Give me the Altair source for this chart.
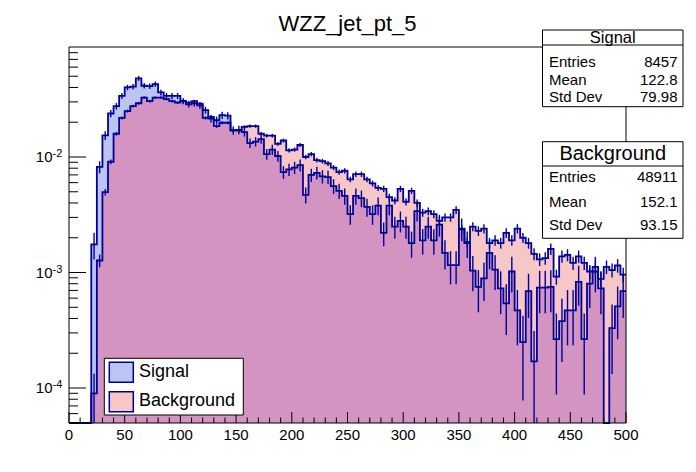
import altair as alt
import pandas as pd

# ---------------- data ----------------
bin_lo = list(range(0, 500, 5))          # 100 bins of width 5, 0..500

signal = [0, 0, 0, 0,
          0.00175, 0.0082, 0.0154, 0.0238, 0.0276, 0.0338, 0.040, 0.0406, 0.048, 0.0414,
          0.041, 0.0428, 0.0362, 0.0338, 0.0338, 0.0338, 0.0305, 0.0286, 0.0292, 0.0280,
          0.0255, 0.0215, 0.0208, 0.023, 0.0228, 0.017, 0.0172, 0.0164, 0.0132, 0.0136,
          0.0143, 0.0106, 0.0116, 0.0102, 0.0074, 0.0078, 0.0081, 0.0085, 0.0047, 0.0070,
          0.0073, 0.0068, 0.0067, 0.0056, 0.0051, 0.0046, 0.0032, 0.0046, 0.0044, 0.0037,
          0.0032, 0.0038, 0.0022, 0.0038, 0.0025, 0.0028, 0.0025, 0.0018, 0.0034, 0.0019,
          0.0025, 0.0019, 0.0026, 0.00148, 0.00116, 0.00116, 0.0024, 0.0018, 0.00104, 0.00075,
          0.00089, 0.00148, 0.00106, 0.00073, 0.00054, 0.00102, 0.00047, 0.00025, 0.00069, 0.00017,
          0.00074, 0.00074, 0.00075, 0.000265, 0.00038, 0.00047, 0.00047, 0.00083, 0.000265, 0.0008,
          0.00102, 0.00073, 0, 0.00033, 0.00051, 0.00069]

background = [0, 0, 0, 0,
              9e-5, 0.00127, 0.00497, 0.0091, 0.0159, 0.0218, 0.0250, 0.0276, 0.0292, 0.0327,
              0.0305, 0.0327, 0.0327, 0.0317, 0.0305, 0.0296, 0.0305, 0.0296, 0.0305, 0.0290,
              0.0218, 0.0222, 0.0185, 0.0198, 0.0198, 0.017, 0.017, 0.0182, 0.0185, 0.0185,
              0.0159, 0.0153, 0.0153, 0.013, 0.0139, 0.0114, 0.0116, 0.0127, 0.0100, 0.0106,
              0.0094, 0.0092, 0.0088, 0.0081, 0.0074, 0.0076, 0.0064, 0.0071, 0.0071, 0.0064,
              0.0059, 0.0054, 0.0053, 0.0045, 0.0042, 0.0053, 0.0041, 0.0051, 0.0040, 0.0033,
              0.0034, 0.0032, 0.0028, 0.0030, 0.0030, 0.00348, 0.00237, 0.00184, 0.0025, 0.00229,
              0.0024, 0.0018, 0.0019, 0.0018, 0.0022, 0.0019, 0.0024, 0.0020, 0.0018, 0.00145,
              0.0013, 0.00133, 0.0016, 0.00092, 0.00138, 0.00142, 0.00121, 0.00138, 0.00121, 0.00102,
              0.00112, 0.00088, 0.00112, 0.00105, 0.00115, 0.00096]

sig_entries = 8457
bg_entries = 48911
sig_stats = ["8457", "122.8", "79.98"]
bg_stats = ["48911", "152.1", "93.15"]
stat_names = ["Entries", "Mean", "Std Dev"]

x_major = list(range(0, 501, 50))
x_minor = [v for v in range(0, 501, 10) if v % 50]
y_major = [1e-2, 1e-3, 1e-4]
y_major_exp = ["-2", "-3", "-4"]
y_minor = ([k * 1e-5 for k in range(5, 10)] + [k * 1e-4 for k in range(2, 10)]
           + [k * 1e-3 for k in range(2, 10)] + [k * 1e-2 for k in range(2, 9)])

title_text = "WZZ_jet_pt_5"

# ---------------- styling ----------------
PLOT_W, PLOT_H = 557, 376
Y_MIN, Y_MAX = 4.98e-5, 0.0896
FLOOR = 1e-7
NAVY = "#000099"
SIG_FILL = "#bcc4f2"
BG_FILL = "#f7c6c6"
OVERLAP_FILL = "#d394c2"
FONT = "Liberation Sans"

x_scale = alt.Scale(domain=[0, 500], nice=False, zero=False)
y_scale = alt.Scale(type="log", domain=[Y_MIN, Y_MAX], clamp=True, nice=False)

# ---------------- tables built from the arrays ----------------
xs = bin_lo + [500]
sig_s = [v if v > 0 else FLOOR for v in signal]
bg_s = [v if v > 0 else FLOOR for v in background]
sig_s = sig_s + [sig_s[-1]]
bg_s = bg_s + [bg_s[-1]]
hist = pd.DataFrame({"x": xs, "sig": sig_s, "bg": bg_s,
                     "ov": [min(a, b) for a, b in zip(sig_s, bg_s)]})

def err_table(vals, n):
    rows = []
    for lo, v in zip(bin_lo, vals):
        if v > 0:
            e = (v / n) ** 0.5
            rows.append({"c": lo + 2.5, "lo": max(v - e, FLOOR), "hi": v + e})
    return pd.DataFrame(rows)

sig_err = err_table(signal, sig_entries)
bg_err = err_table(background, bg_entries)

one = pd.DataFrame({"d": [0]})

X = lambda f: alt.X(f, scale=x_scale, axis=None)
Y = lambda f: alt.Y(f, scale=y_scale, axis=None, stack=None)

def area(field, color):
    return alt.Chart(hist).mark_area(interpolate="step-after", color=color).encode(
        x=X("x:Q"), y=Y(field + ":Q"), y2=alt.value(PLOT_H))

def outline(field):
    return alt.Chart(hist).mark_line(interpolate="step-after", color=NAVY, strokeWidth=1.8).encode(
        x=X("x:Q"), y=Y(field + ":Q"))

def errbars(df):
    return alt.Chart(df).mark_rule(color=NAVY, strokeWidth=1.4).encode(
        x=X("c:Q"), y=Y("lo:Q"), y2=alt.Y2("hi:Q"))

def box(x1, x2, y1, y2, fill="white", stroke="black", sw=1.0):
    return alt.Chart(one).mark_rect(fill=fill, stroke=stroke, strokeWidth=sw).encode(
        x=alt.value(x1), x2=alt.value(x2), y=alt.value(y1), y2=alt.value(y2))

def hline(x1, x2, y):
    return alt.Chart(one).mark_rule(color="black", strokeWidth=1).encode(
        x=alt.value(x1), x2=alt.value(x2), y=alt.value(y))

def label(txt, x, y, size, align="left"):
    return alt.Chart(one).mark_text(text=txt, font=FONT, fontSize=size, align=align,
                                    baseline="middle", color="black").encode(
        x=alt.value(x), y=alt.value(y))

layers = [
    area("bg", BG_FILL),
    area("sig", SIG_FILL),
    area("ov", OVERLAP_FILL),
    outline("bg"),
    outline("sig"),
    errbars(bg_err),
    errbars(sig_err),
]

# frame
layers.append(alt.Chart(one).mark_rect(fill="transparent", stroke="black", strokeWidth=1).encode(
    x=alt.value(0), x2=alt.value(PLOT_W), y=alt.value(0), y2=alt.value(PLOT_H)))

# ticks (inside, ROOT style)
layers.append(alt.Chart(pd.DataFrame({"v": x_major})).mark_rule(color="black").encode(
    x=X("v:Q"), y=alt.value(PLOT_H), y2=alt.value(PLOT_H - 11)))
layers.append(alt.Chart(pd.DataFrame({"v": x_minor})).mark_rule(color="black").encode(
    x=X("v:Q"), y=alt.value(PLOT_H), y2=alt.value(PLOT_H - 5.5)))
layers.append(alt.Chart(pd.DataFrame({"v": y_major})).mark_rule(color="black").encode(
    y=Y("v:Q"), x=alt.value(0), x2=alt.value(17)))
layers.append(alt.Chart(pd.DataFrame({"v": y_minor})).mark_rule(color="black").encode(
    y=Y("v:Q"), x=alt.value(0), x2=alt.value(9)))

# tick labels
layers.append(alt.Chart(pd.DataFrame({"v": x_major, "t": [str(v) for v in x_major]})).mark_text(
    font=FONT, fontSize=15, align="center", baseline="alphabetic").encode(
    x=X("v:Q"), y=alt.value(PLOT_H + 17), text="t:N"))
ylab = pd.DataFrame({"v": y_major, "e": y_major_exp})
layers.append(alt.Chart(ylab).mark_text(text="10", font=FONT, fontSize=15, align="right",
                                        baseline="alphabetic", dy=5.4).encode(
    x=alt.value(-16.5), y=Y("v:Q")))
layers.append(alt.Chart(ylab).mark_text(font=FONT, fontSize=11, align="left",
                                        baseline="alphabetic", dy=0).encode(
    x=alt.value(-16.5), y=Y("v:Q"), text="e:N"))

# title
layers.append(alt.Chart(one).mark_text(text=title_text, font=FONT, fontSize=22, align="center",
                                       baseline="alphabetic").encode(
    x=alt.value(PLOT_W / 2), y=alt.value(-16)))

# legend
layers += [
    box(35.3, 174.3, 311.3, 368),
    box(40.3, 64.3, 315.3, 335.3, fill=SIG_FILL, stroke=NAVY, sw=1.5),
    box(40.3, 64.3, 344.7, 364.7, fill=BG_FILL, stroke=NAVY, sw=1.5),
    label("Signal", 70, 325.3, 18),
    label("Background", 70, 354, 18),
]

# stat boxes
SX1, SX2 = 473.5, 614
layers += [box(SX1, SX2, -17, 59.7), hline(SX1, SX2, -2),
           label("Signal", (SX1 + SX2) / 2, -9.5, 16.5, "center")]
for i, yy in enumerate([14.7, 33, 50.3]):
    layers.append(label(stat_names[i], SX1 + 6.5, yy, 15))
    layers.append(label(sig_stats[i], SX2 - 5.5, yy, 15, "right"))

layers += [box(SX1, SX2, 94.7, 191.3), hline(SX1, SX2, 119),
           label("Background", (SX1 + SX2) / 2, 106.5, 20, "center")]
for i, yy in enumerate([129.7, 154.7, 178]):
    layers.append(label(stat_names[i], SX1 + 6.5, yy, 15))
    layers.append(label(bg_stats[i], SX2 - 5.5, yy, 15, "right"))

chart = alt.layer(*layers).properties(
    width=PLOT_W, height=PLOT_H,
    padding={"left": 61, "top": 39, "right": 62, "bottom": 41},
    autosize=alt.AutoSizeParams(type="none"),
    background="white",
).configure_view(stroke=None)

chart.save("out.html", embed_options={"renderer": "svg", "actions": False})
